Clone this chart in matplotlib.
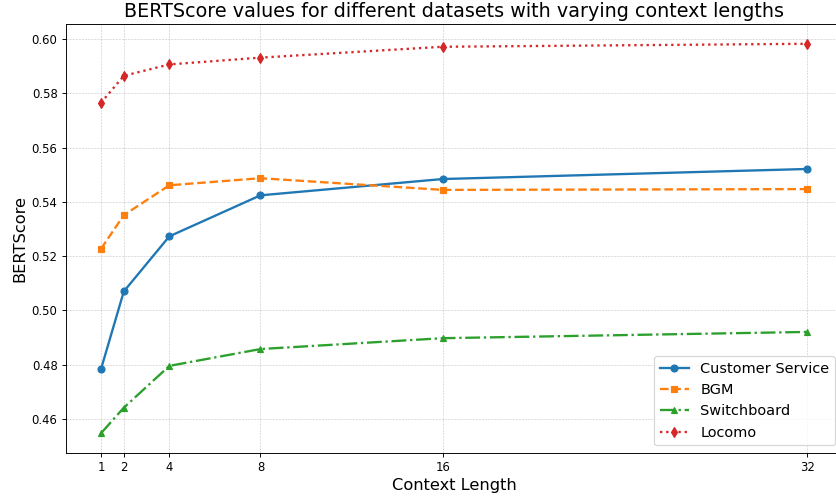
import matplotlib
matplotlib.use("Agg")
import matplotlib.pyplot as plt

# Context lengths and BERTScore per dataset
context_lengths = [1, 2, 4, 8, 16, 32]
customer_service = [0.4784, 0.5070, 0.5273, 0.5424, 0.5484, 0.5521]
bgm = [0.5227, 0.5351, 0.5461, 0.5487, 0.5444, 0.5447]
switchboard = [0.4548, 0.4642, 0.4796, 0.4858, 0.4898, 0.4921]
locomo = [0.5765, 0.5864, 0.5906, 0.5931, 0.5971, 0.5982]

series = [
    ("Customer Service", customer_service, "o", "-"),
    ("BGM", bgm, "s", "--"),
    ("Switchboard", switchboard, "^", "-."),
    ("Locomo", locomo, "d", ":"),
]

fig = plt.figure(figsize=(10, 497 / 83.6), dpi=83.6)
ax = fig.add_axes([0.0786, 0.0891, 0.929, 0.862])

for label, values, marker, ls in series:
    ax.plot(context_lengths, values, marker=marker, linestyle=ls, linewidth=2, label=label)

ax.set_xticks(context_lengths)
ax.set_xlabel("Context Length", fontsize=14)
ax.set_ylabel("BERTScore", fontsize=14)
ax.set_title("BERTScore values for different datasets with varying context lengths", fontsize=16.5)
ax.grid(True, linestyle="--", linewidth=0.5, alpha=0.7)
ax.legend(loc="lower right", fontsize=12.5)

fig.savefig("out.png", dpi=83.6)
